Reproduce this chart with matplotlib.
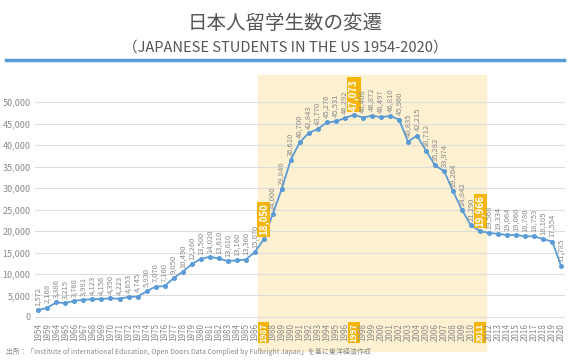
import matplotlib.pyplot as plt
from matplotlib.patches import Rectangle
import matplotlib.transforms as mtransforms

plt.rcParams['font.family'] = ['Noto Sans CJK JP', 'DejaVu Sans']

title = '日本人留学生数の変遷'
subtitle = '（JAPANESE STUDENTS IN THE US 1954-2020）'
source = '出所：「Institute of International Education, Open Doors Data Complied by Fulbright Japan」を基に東洋経済作成'

years = ['1954', '1959'] + [str(y) for y in range(1964, 2021)]
students = [1572, 2168, 3386, 3215, 3768, 3981, 4123, 4156, 4350, 4223,
            4653, 4745, 5930, 7070, 7160, 9050, 10490, 12260, 13500, 14020,
            13610, 13010, 13160, 13360, 15070, 18050, 24000, 29840, 36610, 40700,
            42843, 43770, 45276, 45531, 46292, 47073, 46406, 46872, 46497, 46810,
            45960, 40835, 42215, 38712, 35282, 33974, 29264, 24842, 21290, 19966,
            19568, 19334, 19064, 19060, 18780, 18753, 18105, 17554, 11785]
highlight_years = ['1987', '1997', '2011']

blue = '#5b9bd5'
orange = '#f5b50a'
gray = '#8a8a8a'

fig = plt.figure(figsize=(5.70, 3.63), dpi=100)
ax = fig.add_axes([0.061, 0.121, 0.93, 0.672])

x = list(range(len(years)))
ax.plot(x, students, '-o', color=blue, lw=1.3, ms=2.6)

# highlighted period
i0 = years.index('1987') - 0.6
i1 = years.index('2011') + 0.6
trans = mtransforms.blended_transform_factory(ax.transData, ax.transAxes)
ax.add_patch(Rectangle((i0, -0.13), i1 - i0, 1.13, transform=trans,
                       color='#fdf1d2', zorder=0, clip_on=False))

for i, (yr, v) in enumerate(zip(years, students)):
    lab = f'{v:,}'
    if yr in highlight_years:
        ax.annotate(lab, (i, v), xytext=(0, 3), textcoords='offset points',
                    rotation=90, ha='center', va='bottom', fontsize=7,
                    color='white', fontweight='bold',
                    bbox=dict(boxstyle='square,pad=0.15', fc=orange, ec='none'))
    else:
        ax.annotate(lab, (i, v), xytext=(0, 3), textcoords='offset points',
                    rotation=90, ha='center', va='bottom', fontsize=5.5,
                    color=gray)

ax.set_xlim(-0.4, len(years) - 0.6)
ax.set_ylim(-500, 56300)
ax.set_yticks(range(0, 50001, 5000))
ax.set_yticklabels([f'{t:,}' for t in range(0, 50001, 5000)], fontsize=6.5, color=gray)
ax.set_xticks(x)
ax.set_xticklabels(years, rotation=90, fontsize=5.8, color=gray)
for t in ax.get_xticklabels():
    if t.get_text() in highlight_years:
        t.set_color('white')
        t.set_fontweight('bold')
        t.set_bbox(dict(boxstyle='square,pad=0.15', fc=orange, ec='none'))
ax.tick_params(length=0, pad=3)
ax.grid(axis='y', color='#dddddd', lw=0.8)
ax.set_axisbelow(True)
for s in ax.spines.values():
    s.set_visible(False)
ax.patch.set_alpha(0)

fig.text(0.5, 0.935, title, ha='center', va='center', fontsize=14, color='#555555')
fig.text(0.5, 0.868, subtitle, ha='center', va='center', fontsize=10.5, color='#555555')
fig.add_artist(plt.Line2D([0.01, 0.99], [0.834, 0.834], color=blue, lw=2.5))
fig.text(0.01, 0.03, source, ha='left', va='center', fontsize=5, color=gray)

plt.savefig('out.png', dpi=100)
